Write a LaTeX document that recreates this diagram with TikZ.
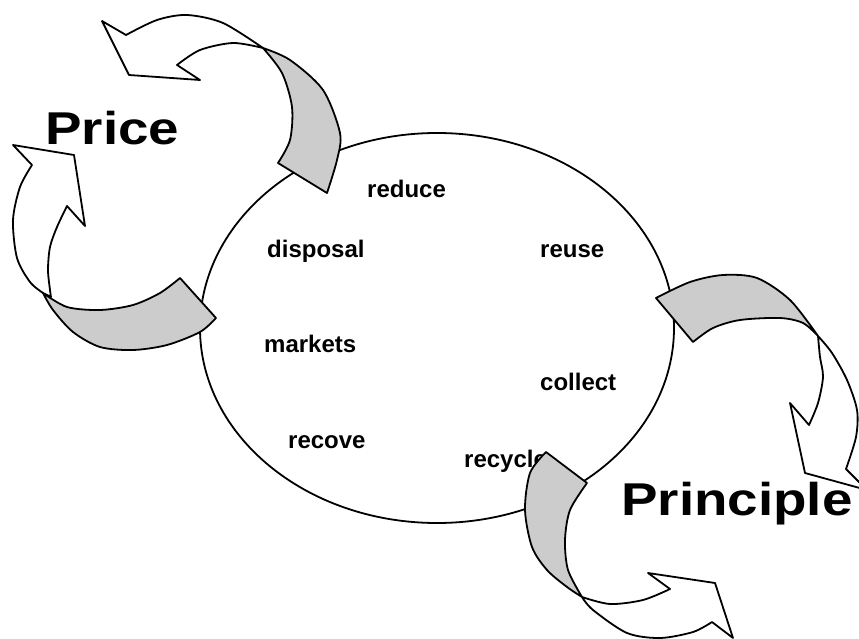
\documentclass[tikz,border=0pt]{standalone}
\usepackage{fontspec}
\setmainfont{Liberation Sans}
\newcommand{\wordfont}{\fontsize{24}{24}\selectfont\bfseries}
\newcommand{\headfont}{\fontsize{46}{46}\selectfont\bfseries}

\tikzset{
  band/.style={draw, fill=white, line width=1.8pt, line join=round},
  twist/.style={draw, fill=black!20, line width=1.8pt, line join=round},
  word/.style={anchor=base west, inner sep=0pt, font=\wordfont},
  heading/.style={anchor=base west, inner sep=0pt, xscale=1.19, font=\headfont}
}

\begin{document}
\begin{tikzpicture}[x=1pt, y=-1pt]
  \useasboundingbox (0,0) rectangle (859,639);
  \clip (0,0) rectangle (859,639);

  % the loop
  \draw[line width=1.8pt] (437,328) ellipse [x radius=237, y radius=195];

  \node[word] (reduce)   at (367,198) {reduce};
  \node[word] (disposal) at (267,257) {disposal};
  \node[word] (reuse)    at (540,257) {reuse};
  \node[word] (markets)  at (264,352) {markets};
  \node[word] (collect)  at (540,390) {collect};
  \node[word] (recove)   at (288,448) {recove};
  \node[word] (recycle)  at (464,467) {recycle};

  % top left arrow
  \draw[twist] plot[smooth] coordinates {(263,48) (290,60) (323,90) (340,133) (337,160) (327,193)}
    -- (278,163)
    -- plot[smooth] coordinates {(278,163) (290,140) (292,107) (282,73) (263,48)} -- cycle;
  \draw[band] (126,35) -- (102,21) -- (129,75) -- (200,80) -- (177,65)
    -- plot[smooth] coordinates {(177,65) (200,50) (233,43) (263,48)}
    -- plot[smooth] coordinates {(263,48) (223,23) (187,15) (157,20) (126,35)} -- cycle;

  % left arrow
  \draw[twist] plot[smooth] coordinates {(43,293) (67,307) (100,310) (133,305) (160,293) (180,278)}
    -- (216,318)
    -- plot[smooth] coordinates {(216,318) (200,332) (167,345) (133,350) (100,347) (73,332) (53,310) (43,293)} -- cycle;
  \draw[band] (32,165) -- (13,145) -- (74,155) -- (85,226) -- (67,206)
    -- plot[smooth] coordinates {(67,206) (57,227) (50,247) (48,270) (50,290) (51,297)}
    -- (43,293)
    -- plot[smooth] coordinates {(43,293) (30,282) (17,258) (13,220) (20,187) (32,165)} -- cycle;

  % right arrow
  \draw[twist] plot[smooth] coordinates {(656,298) (690,282) (723,275) (757,278) (790,300) (818,336)}
    -- plot[smooth] coordinates {(818,336) (803,323) (780,318) (740,320) (713,328) (693,342)} -- cycle;
  \draw[band] (846,469) -- (867,490) -- (805,473) -- (790,403) -- (809,425)
    -- plot[smooth] coordinates {(809,425) (818,403) (823,377) (820,357) (818,336)}
    -- plot[smooth] coordinates {(818,336) (832,353) (847,380) (857,410) (856,437) (846,469)} -- cycle;

  % bottom arrow
  \draw[twist] (546,452) -- (587,483)
    -- plot[smooth] coordinates {(587,483) (570,510) (565,540) (568,570) (582,597)}
    -- plot[smooth] coordinates {(582,597) (567,587) (547,570) (532,547) (525,510) (530,473) (546,452)} -- cycle;
  \draw[band] (712,622) -- (733,638) -- (715,583) -- (648,573) -- (670,589)
    -- plot[smooth] coordinates {(670,589) (643,600) (610,604) (582,597)}
    -- plot[smooth] coordinates {(582,597) (593,610) (627,633) (660,638) (693,632) (712,622)} -- cycle;

  \node[heading] (price)     at (45,145)  {Price};
  \node[heading] (principle) at (621,515) {Principle};
\end{tikzpicture}
\end{document}
